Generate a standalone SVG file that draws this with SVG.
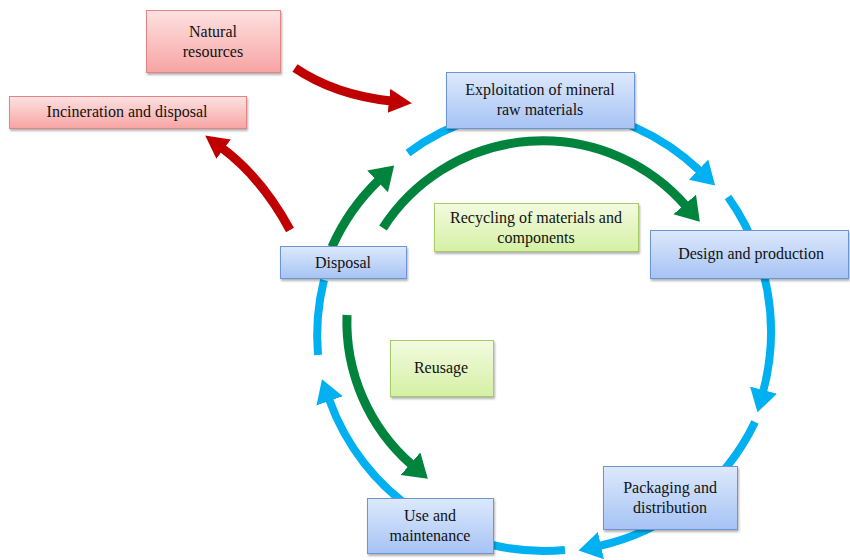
<svg xmlns="http://www.w3.org/2000/svg" width="850" height="560" viewBox="0 0 850 560">
<defs>
<linearGradient id="gBlue" x1="0" y1="0" x2="0" y2="1"><stop offset="0" stop-color="#dde9fc"/><stop offset="1" stop-color="#a6c3f4"/></linearGradient>
<linearGradient id="gRed" x1="0" y1="0" x2="0" y2="1"><stop offset="0" stop-color="#fde2e1"/><stop offset="1" stop-color="#f7a4a3"/></linearGradient>
<linearGradient id="gGreen" x1="0" y1="0" x2="0" y2="1"><stop offset="0" stop-color="#f3fbe0"/><stop offset="1" stop-color="#d4f0a4"/></linearGradient>
<filter id="sh" x="-10%" y="-10%" width="130%" height="140%"><feDropShadow dx="1" dy="2" stdDeviation="1.2" flood-color="#000" flood-opacity="0.3"/></filter>
<marker id="mBlue" markerUnits="userSpaceOnUse" markerWidth="26" markerHeight="30" refX="2" refY="14" orient="auto"><path d="M0,0 L23,14 L0,28 z" fill="#00b0f0"/></marker>
<marker id="mGreen" markerUnits="userSpaceOnUse" markerWidth="26" markerHeight="32" refX="2" refY="15" orient="auto"><path d="M0,0 L23,15 L0,30 z" fill="#00843d"/></marker>
<marker id="mRed" markerUnits="userSpaceOnUse" markerWidth="26" markerHeight="28" refX="2" refY="12" orient="auto"><path d="M0,0 L23,12 L0,24 z" fill="#c00000"/></marker>
</defs>
<style>
.blue{fill:none;stroke:#00b0f0;stroke-width:8}
.green{fill:none;stroke:#00843d;stroke-width:9}
.red{fill:none;stroke:#c00000;stroke-width:9}
.nb{fill:url(#gBlue);stroke:#6a96d4;stroke-width:1;filter:url(#sh)}
.nr{fill:url(#gRed);stroke:#e08585;stroke-width:1;filter:url(#sh)}
.ng{fill:url(#gGreen);stroke:#a6cc6a;stroke-width:1;filter:url(#sh)}
text{font-family:"Liberation Serif","Times New Roman",serif;font-size:16px;fill:#111;text-anchor:middle}
</style>
<g id="connectors">
<path class="blue" d="M408,153 A226,226 0 0 1 700,171" marker-end="url(#mBlue)"/>
<path class="blue" d="M728,197 A232,232 0 0 1 763,392" marker-end="url(#mBlue)"/>
<path class="blue" d="M755,422 A228,228 0 0 1 599,546" marker-end="url(#mBlue)"/>
<path class="blue" d="M565,550 A228,228 0 0 1 329,399" marker-end="url(#mBlue)"/>
<path class="blue" d="M318,355 A228,228 0 0 1 324,280"/>
<path class="green" d="M332,247 A210,210 0 0 1 379,180" marker-end="url(#mGreen)"/>
<path class="green" d="M383,228 A190,190 0 0 1 686,206" marker-end="url(#mGreen)"/>
<path class="green" d="M347,315 A190,190 0 0 0 412,465" marker-end="url(#mGreen)"/>
<path class="red" d="M295,68 Q335,95 391,101" marker-end="url(#mRed)"/>
<path class="red" d="M290,230 Q262,178 222,148" marker-end="url(#mRed)"/>
</g>
<g id="natural-resources"><rect class="nr" x="146.5" y="10.5" width="134" height="62"/><text x="213" y="37">Natural</text><text x="213" y="57">resources</text></g>
<g id="incineration"><rect class="nr" x="9.5" y="96.5" width="237" height="32"/><text x="127" y="117">Incineration and disposal</text></g>
<g id="exploitation"><rect class="nb" x="446.5" y="72.5" width="188" height="56"/><text x="540" y="95">Exploitation of mineral</text><text x="540" y="115">raw materials</text></g>
<g id="design"><rect class="nb" x="650.5" y="230.5" width="198" height="48"/><text x="751" y="259">Design and production</text></g>
<g id="packaging"><rect class="nb" x="603.5" y="466.5" width="134" height="63"/><text x="670" y="493">Packaging and</text><text x="670" y="513">distribution</text></g>
<g id="use"><rect class="nb" x="367.5" y="498.5" width="126" height="55"/><text x="430" y="521">Use and</text><text x="430" y="541">maintenance</text></g>
<g id="disposal"><rect class="nb" x="280.5" y="246.5" width="126" height="32"/><text x="343" y="268">Disposal</text></g>
<g id="recycling"><rect class="ng" x="434.5" y="203.5" width="204" height="48"/><text x="536" y="223">Recycling of materials and</text><text x="536" y="243">components</text></g>
<g id="reusage"><rect class="ng" x="390.5" y="340.5" width="103" height="56"/><text x="441" y="373">Reusage</text></g>
</svg>
